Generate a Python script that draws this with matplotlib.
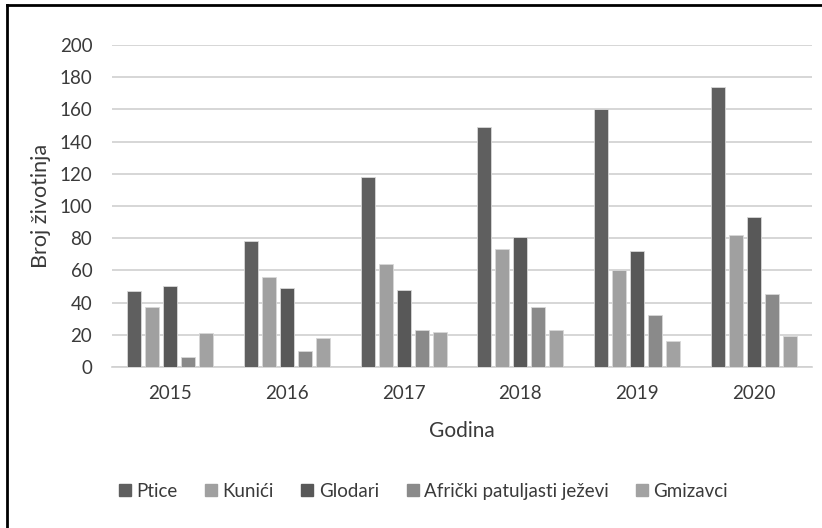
import numpy as np
import matplotlib; matplotlib.use("Agg")
import matplotlib.pyplot as plt
from matplotlib.lines import Line2D

years = ["2015", "2016", "2017", "2018", "2019", "2020"]
series = ["Ptice", "Kunići", "Glodari", "Afrički patuljasti ježevi", "Gmizavci"]
ptice = [47, 78, 118, 149, 160, 174]
kunici = [37, 56, 64, 73, 60, 82]
glodari = [50, 49, 48, 81, 72, 93]
jezevi = [6, 10, 23, 37, 32, 45]
gmizavci = [21, 18, 22, 23, 16, 19]
values = [ptice, kunici, glodari, jezevi, gmizavci]
colors = ["#5f5f5f", "#a0a0a0", "#585858", "#8a8a8a", "#a2a2a2"]

plt.rcParams['font.family'] = ['Lato', 'DejaVu Sans']
TXT = "#3a3a3a"

fig = plt.figure(figsize=(8.22, 5.28), dpi=100)
ax = fig.add_axes([0.136, 0.305, 0.852, 0.61])

x = np.arange(len(years))
step = 0.154; bw = 0.12
for i, (name, vals, c) in enumerate(zip(series, values, colors)):
    ax.bar(x + (i - 2) * step, vals, width=bw, color=c, edgecolor="#d8d8d8",
           linewidth=0.6, label=name, zorder=3)

ax.set_xlim(-0.5, len(years) - 0.5)
ax.set_ylim(0, 200)
ax.set_yticks(np.arange(0, 201, 20))
ax.set_xticks(x)
ax.set_xticklabels(years)
ax.grid(axis="y", color="#d0d0d0", lw=1.2, zorder=0)
for s in ["top", "right", "left"]:
    ax.spines[s].set_visible(False)
ax.spines["bottom"].set_color("#d0d0d0")
ax.spines["bottom"].set_linewidth(1.2)
ax.tick_params(axis="both", length=0, labelsize=13.5, labelcolor=TXT)
ax.tick_params(axis="y", pad=14)
ax.tick_params(axis="x", pad=13)
ax.set_ylabel("Broj životinja", fontsize=15.5, color=TXT, labelpad=6)
ax.set_xlabel("Godina", fontsize=15, color=TXT, labelpad=14)

handles = [Line2D([], [], marker="s", ls="", markersize=9, color=c) for c in colors]
fig.legend(handles, series, loc="center", bbox_to_anchor=(0.512, 0.07), ncol=5,
           frameon=False, fontsize=13.5, labelcolor=TXT, handletextpad=0.0,
           columnspacing=1.2, handlelength=1.2)

# partial black frame (left and top edges visible in the source)
fig.add_artist(Line2D([0.008, 0.008], [0, 0.99], transform=fig.transFigure, color="black", lw=2))
fig.add_artist(Line2D([0.008, 1], [0.99, 0.99], transform=fig.transFigure, color="black", lw=2))

fig.savefig("out.png", dpi=100)
